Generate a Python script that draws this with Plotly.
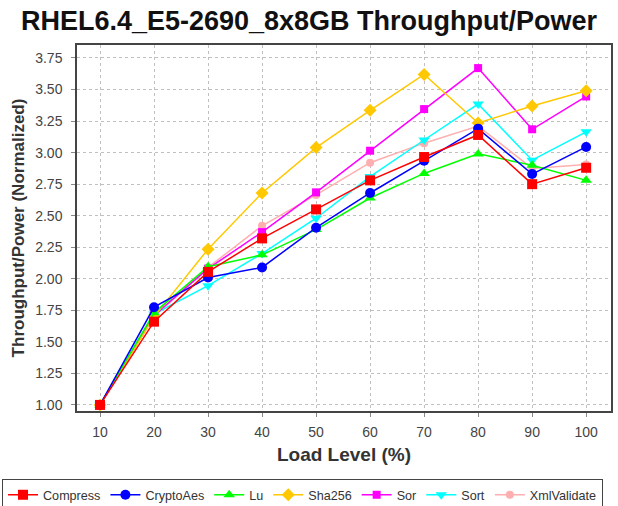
import plotly.graph_objects as go

load_levels = [10, 20, 30, 40, 50, 60, 70, 80, 90, 100]

compress = [1.00, 1.66, 2.055, 2.32, 2.55, 2.78, 2.965, 3.14, 2.75, 2.88]
crypto_aes = [1.00, 1.775, 2.01, 2.09, 2.405, 2.68, 2.935, 3.19, 2.83, 3.045]
lu = [1.00, 1.73, 2.095, 2.19, 2.39, 2.64, 2.835, 2.99, 2.90, 2.78]
sha256 = [1.00, 1.70, 2.235, 2.68, 3.04, 3.335, 3.62, 3.235, 3.37, 3.49]
sor = [1.00, 1.71, 2.08, 2.37, 2.685, 3.015, 3.345, 3.67, 3.185, 3.445]
sort = [1.00, 1.72, 1.945, 2.20, 2.48, 2.81, 3.10, 3.385, 2.94, 3.165]
xml_validate = [1.00, 1.70, 2.09, 2.42, 2.665, 2.92, 3.075, 3.21, 2.875, 2.905]

y_ticks = [1.00, 1.25, 1.50, 1.75, 2.00, 2.25, 2.50, 2.75, 3.00, 3.25, 3.50, 3.75]

series = [
    ("Compress", compress, "#FF0000", "square", 10),
    ("CryptoAes", crypto_aes, "#0000FF", "circle", 10),
    ("Lu", lu, "#00FF00", "triangle-up", 10),
    ("Sha256", sha256, "#FFC800", "diamond", 10),
    ("Sor", sor, "#FF00FF", "square", 8),
    ("Sort", sort, "#00FFFF", "triangle-down", 10),
    ("XmlValidate", xml_validate, "#FFAFAF", "circle", 8),
]

fig = go.Figure()
# first series drawn on top, so add in reverse
for name, vals, color, symbol, size in reversed(series):
    fig.add_trace(go.Scatter(
        x=load_levels, y=vals, name=name,
        mode="lines+markers",
        line=dict(color=color, width=1.5),
        marker=dict(symbol=symbol, size=size, color=color, line=dict(width=0)),
    ))

fig.update_layout(
    width=618, height=506,
    paper_bgcolor="white", plot_bgcolor="white",
    font=dict(family="Liberation Sans, Arial, sans-serif", color="#333333"),
    title=dict(text="<b>RHEL6.4_E5-2690_8x8GB Throughput/Power</b>",
               x=0.5, xanchor="center", y=0.96, yanchor="middle",
               font=dict(size=27, color="#111111")),
    margin=dict(l=77, r=7, t=45, b=95, autoexpand=False),
    legend=dict(orientation="h", traceorder="reversed",
                x=-0.1404, xanchor="left",
                y=-0.186, yanchor="top",
                bordercolor="#444444", borderwidth=1,
                font=dict(size=12.6, color="#333333"),
                itemwidth=30, tracegroupgap=0),
)

fig.update_xaxes(
    range=[5.74, 104.6], tickvals=load_levels, tickangle=0,
    title=dict(text="<b>Load Level (%)</b>", font=dict(size=19, color="#333333"), standoff=9),
    tickfont=dict(size=14, color="#444444"), ticklabelstandoff=3,
    ticks="outside", ticklen=4, tickcolor="#888888",
    showline=True, mirror=True, linecolor="#444444", linewidth=1.5,
    showgrid=True, gridcolor="#C0C0C0", griddash="3px,3px", gridwidth=1,
    zeroline=False,
)
fig.update_yaxes(
    range=[0.952, 3.853], tickvals=y_ticks, tickformat=".2f",
    title=dict(text="<b>Throughput/Power (Normalized)</b>", font=dict(size=17, color="#333333"), standoff=6),
    tickfont=dict(size=14, color="#444444"), ticklabelstandoff=6,
    ticks="outside", ticklen=4, tickcolor="#888888",
    showline=True, mirror=True, linecolor="#444444", linewidth=1.5,
    showgrid=True, gridcolor="#C0C0C0", griddash="3px,3px", gridwidth=1,
    zeroline=False,
)

# page body has a default 8px margin; drop it so the figure sits at the window origin
fig.write_html("out.html", config={"displayModeBar": False},
               post_script="document.body.style.margin='0px';")
